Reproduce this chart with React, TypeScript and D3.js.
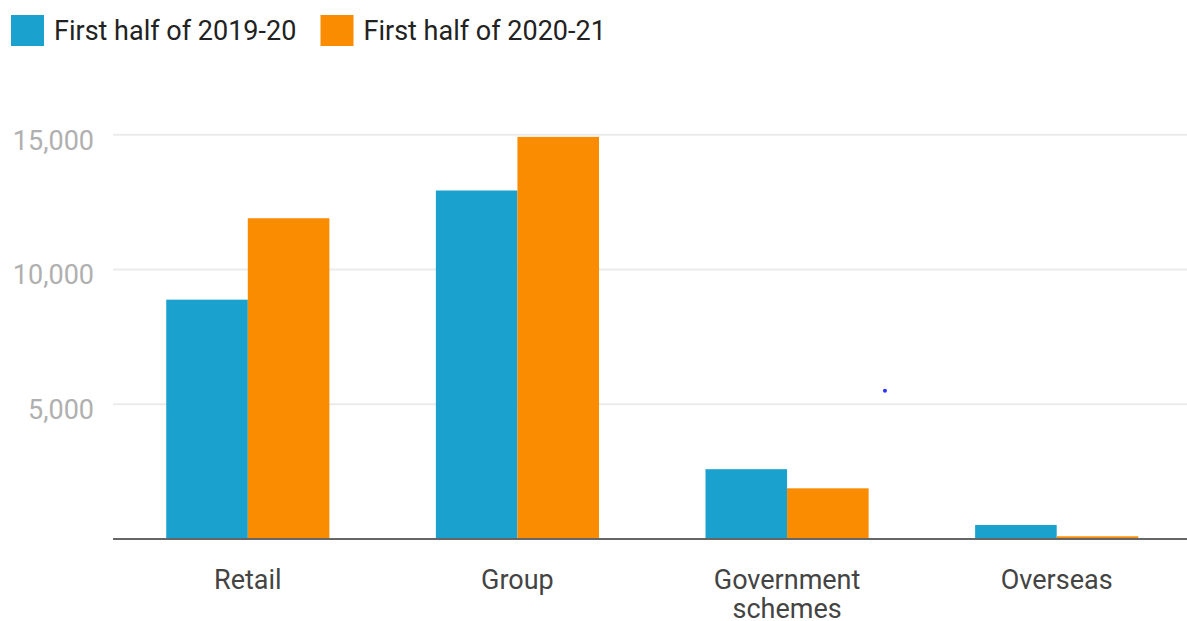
import React from "react";
import * as d3 from "d3";

const categories: string[][] = [["Retail"], ["Group"], ["Government", "schemes"], ["Overseas"]];
const categoryKeys = ["Retail", "Group", "Government schemes", "Overseas"];
const seriesNames = ["First half of 2019-20", "First half of 2020-21"];
const series2019 = [8880, 12930, 2590, 520];
const series2020 = [11900, 14920, 1880, 100];
const yTicks = [5000, 10000, 15000];
const colors = ["#1AA1CE", "#F98C00"];

const W = 1187;
const H = 621;
const FONT = "Roboto, 'Noto Sans', sans-serif";

export default function App() {
  const x = d3.scaleBand<string>().domain(categoryKeys).range([113, 1191.5]).paddingInner(0).paddingOuter(0);
  const groupW = x.bandwidth() * 0.605;
  const x1 = d3.scaleBand<number>().domain([0, 1]).range([0, groupW]).padding(0);
  const y = d3.scaleLinear().domain([0, 15000]).range([539, 134.7]);
  const fmt = d3.format(",");
  const allSeries = [series2019, series2020];

  // stray dot present in the reference
  const dotX = (x("Overseas") as number) - x.bandwidth() * 0.137;
  const dotY = y(5500);

  return (
    <svg width={W} height={H} style={{ position: "absolute", left: 0, top: 0, background: "#fff" }} fontFamily={FONT}>
      <rect width={W} height={H} fill="#fff" />
      {/* legend */}
      {seriesNames.map((name, i) => {
        const lx = i === 0 ? 11 : 320.5;
        return (
          <g key={name}>
            <rect x={lx} y={15} width={33} height={31} fill={colors[i]} />
            <text x={lx + 43} y={40} fontSize={27} fill="#222">{name}</text>
          </g>
        );
      })}
      {/* gridlines */}
      {yTicks.map((t) => (
        <g key={t}>
          <line x1={113} x2={W} y1={y(t)} y2={y(t)} stroke="#ebebeb" strokeWidth={2} />
          <text x={94} y={y(t) + 15} textAnchor="end" fontSize={27} fill="#b0b0b0">{fmt(t)}</text>
        </g>
      ))}
      {/* bars */}
      {categoryKeys.map((c, ci) => {
        const gx = (x(c) as number) + (x.bandwidth() - groupW) / 2;
        return (
          <g key={c}>
            {allSeries.map((s, si) => (
              <rect
                key={si}
                x={gx + (x1(si) as number)}
                y={y(s[ci])}
                width={x1.bandwidth()}
                height={y(0) - y(s[ci])}
                fill={colors[si]}
              />
            ))}
          </g>
        );
      })}
      {/* baseline */}
      <line x1={113} x2={W} y1={y(0)} y2={y(0)} stroke="#666" strokeWidth={2} />
      {/* category labels */}
      {categoryKeys.map((c, ci) => (
        <text key={c} x={(x(c) as number) + x.bandwidth() / 2} y={588.5} textAnchor="middle" fontSize={27} fill="#444">
          {categories[ci].map((line, li) => (
            <tspan key={li} x={(x(c) as number) + x.bandwidth() / 2} dy={li === 0 ? 0 : 29.5}>{line}</tspan>
          ))}
        </text>
      ))}
      <circle cx={dotX} cy={dotY} r={2} fill="#3030ff" />
    </svg>
  );
}
